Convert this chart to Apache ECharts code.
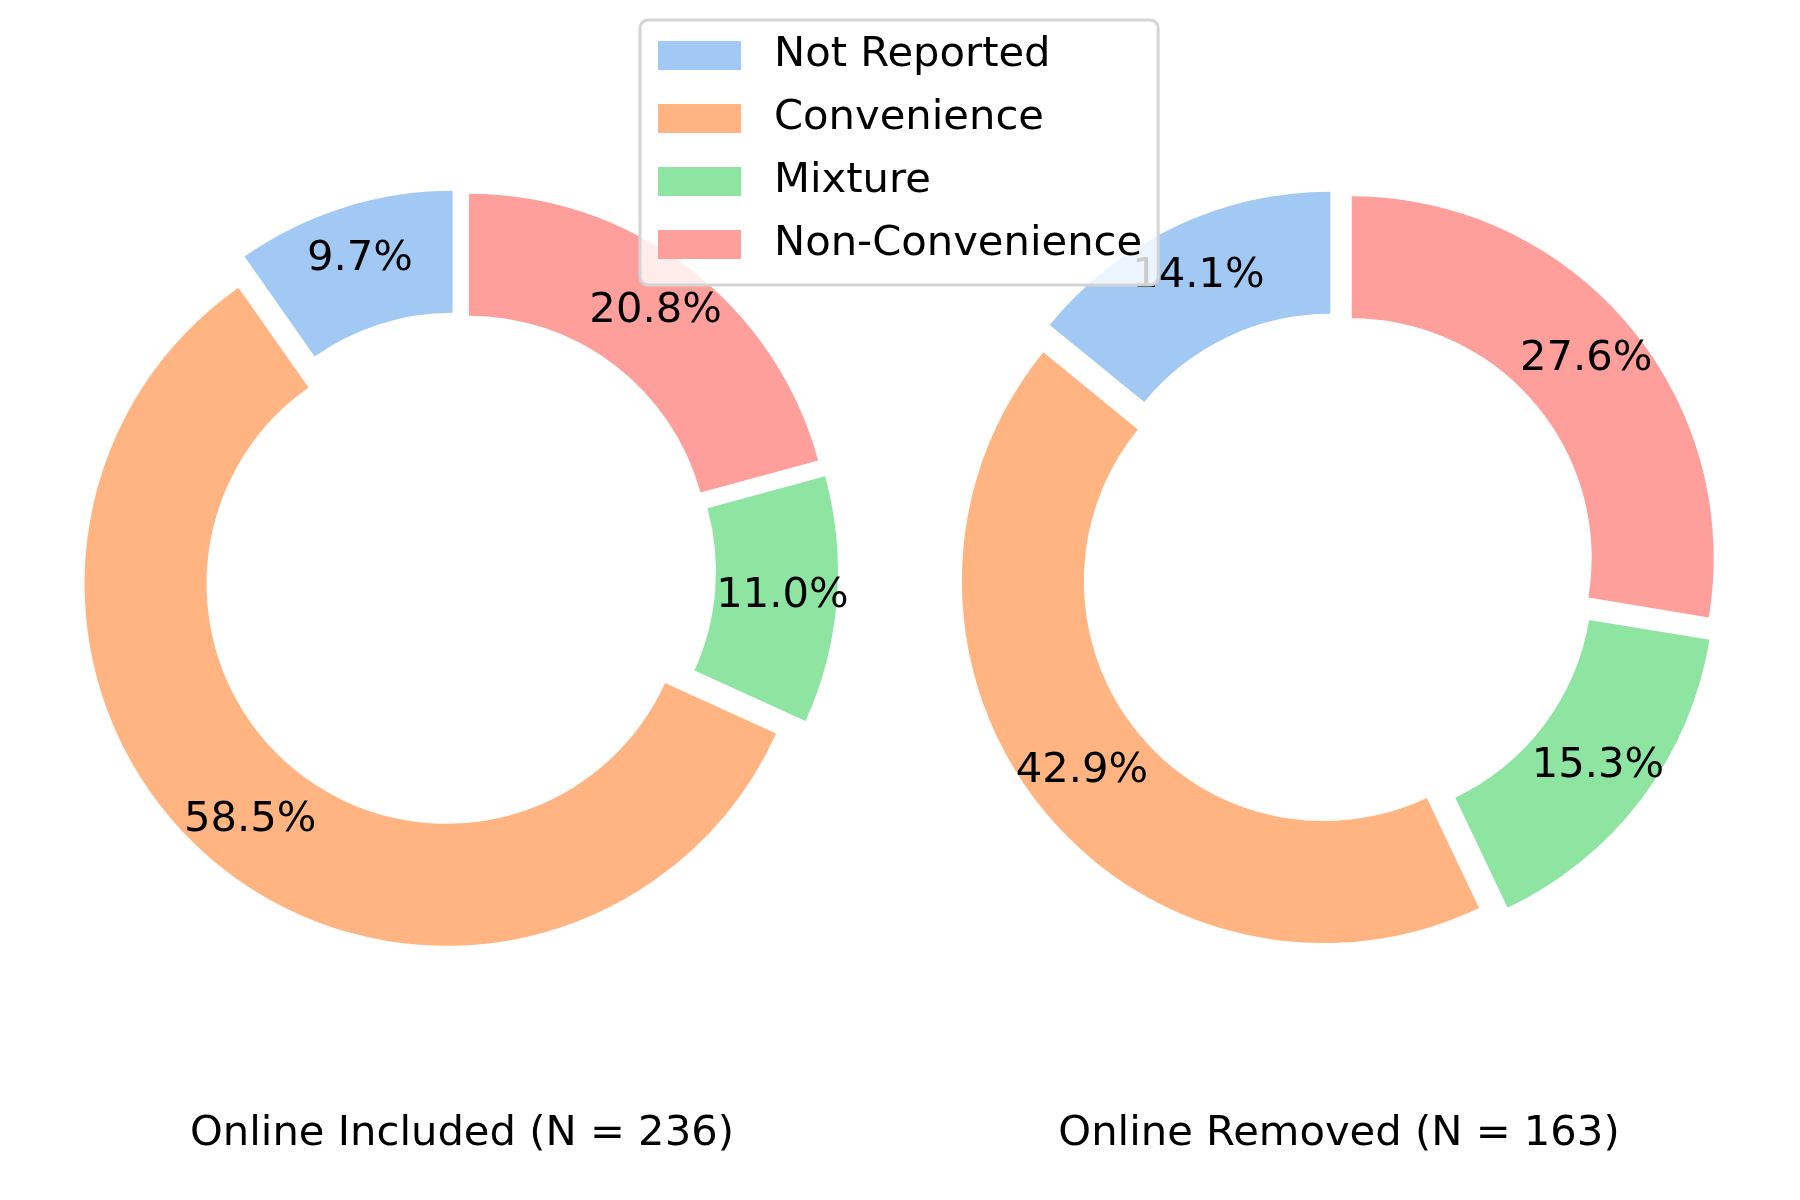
<!DOCTYPE html>
<html>
<head>
<meta charset="utf-8">
<script src="https://cdn.jsdelivr.net/npm/echarts@6/dist/echarts.min.js"></script>
<style>
html,body{margin:0;padding:0;background:#fff;}
#chart{width:1800px;height:1200px;}
</style>
</head>
<body>
<div id="chart"></div>
<script>
const categories = ['Not Reported', 'Convenience', 'Mixture', 'Non-Convenience'];
const includedValues = [23, 138, 26, 49];
const removedValues = [23, 70, 25, 45];
const colors = ['#a1c9f4', '#ffb482', '#8de5a1', '#ff9f9b'];
const panelTitles = ['Online Included (N = 236)', 'Online Removed (N = 163)'];

const FONT = 'DejaVu Sans';
const FS = 41.7;
const centers = [[458, 570], [1338, 570]];
const titleX = [462, 1339];

function pctFormatter(values) {
  const total = values.reduce((a, b) => a + b, 0);
  return p => (p.value / total * 100).toFixed(1) + '%';
}

function ringSeries(values, center) {
  return {
    type: 'pie',
    center: center,
    radius: [240, 362],
    startAngle: 90,
    clockwise: false,
    selectedMode: 'multiple',
    selectedOffset: 18,
    label: { show: false },
    labelLine: { show: false },
    emphasis: { disabled: true },
    select: { itemStyle: { borderWidth: 0 } },
    z: 2,
    data: categories.map((c, i) => ({
      name: c, value: values[i], selected: true,
      itemStyle: { color: colors[i] }
    }))
  };
}

function labelSeries(values, center) {
  return {
    type: 'pie',
    center: center,
    radius: [247, 362],
    startAngle: 90,
    clockwise: false,
    selectedMode: 'multiple',
    selectedOffset: 18,
    silent: true,
    emphasis: { disabled: true },
    z: 3,
    label: {
      show: true,
      position: 'inside',
      formatter: pctFormatter(values),
      fontSize: FS,
      fontFamily: FONT,
      color: '#000'
    },
    labelLine: { show: false },
    data: categories.map((c, i) => ({
      name: c, value: values[i], selected: true,
      itemStyle: { color: 'rgba(0,0,0,0)' }
    }))
  };
}

const chart = echarts.init(document.getElementById('chart'), null, { renderer: 'canvas' });
chart.setOption({
  animation: false,
  backgroundColor: '#ffffff',
  legend: {
    orient: 'vertical',
    left: 640,
    top: 20,
    padding: [12, 16, 17, 18],
    itemWidth: 83,
    itemHeight: 29,
    itemGap: 16,
    icon: 'rect',
    backgroundColor: 'rgba(255,255,255,0.8)',
    borderColor: '#d4d4d4',
    borderWidth: 3,
    borderRadius: 8,
    selectedMode: false,
    z: 10,
    textStyle: {
      fontSize: FS,
      fontFamily: FONT,
      color: '#000',
      lineHeight: 41,
      padding: [6, 0, 0, 28]
    },
    data: categories.map((c, i) => ({ name: c, itemStyle: { color: colors[i] } }))
  },
  graphic: panelTitles.map((t, i) => ({
    type: 'text',
    x: titleX[i],
    y: 1134,
    style: {
      text: t,
      fontSize: FS,
      fontFamily: FONT,
      fill: '#000',
      align: 'center',
      verticalAlign: 'middle'
    }
  })),
  series: [
    ringSeries(includedValues, centers[0]),
    ringSeries(removedValues, centers[1]),
    labelSeries(includedValues, centers[0]),
    labelSeries(removedValues, centers[1])
  ]
});
</script>
</body>
</html>
